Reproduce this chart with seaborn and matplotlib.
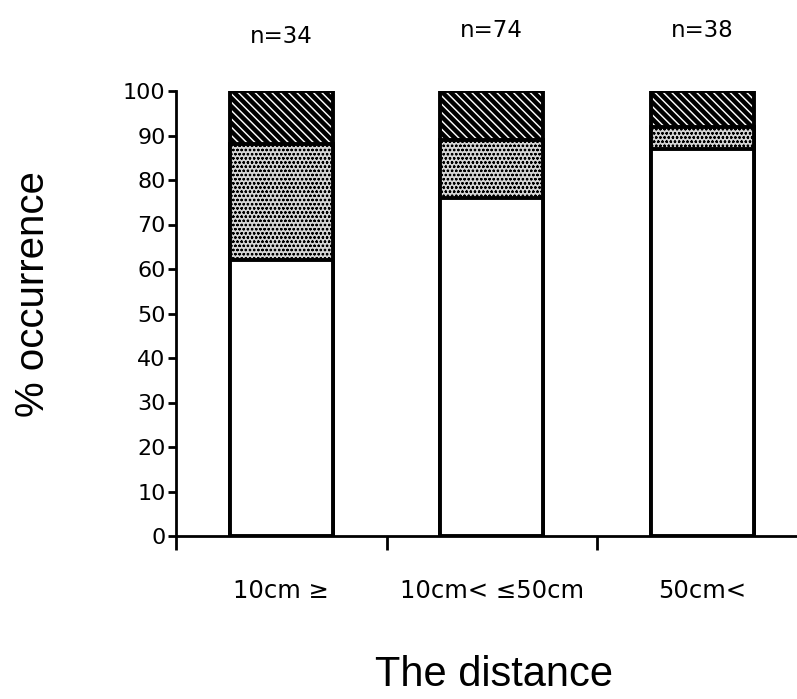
import matplotlib
matplotlib.use('Agg')
import matplotlib.pyplot as plt
import seaborn as sns
import numpy as np
import pandas as pd

sns.set_style('ticks')
plt.rcParams['font.family'] = ['Liberation Sans', 'DejaVu Sans']
plt.rcParams.update({'text.color': 'black', 'axes.labelcolor': 'black',
                     'xtick.color': 'black', 'ytick.color': 'black',
                     'axes.edgecolor': 'black'})

# data
categories = ['10cm ≥', '10cm< ≤50cm', '50cm<']
n_labels = ['n=34', 'n=74', 'n=38']
white_part = [62, 76, 87]
dotted_part = [26, 13, 5]
hatched_part = [12, 11, 8]

df = pd.DataFrame({'distance': categories,
                   'white': white_part,
                   'dotted': dotted_part,
                   'hatched': hatched_part})
df['mid'] = df.white + df.dotted
df['top'] = df.mid + df.hatched

fig = plt.figure(figsize=(7.97, 6.99), dpi=100)
ax = fig.add_axes([176 / 797, 163 / 699, 1 - 176 / 797, 445 / 699])

# stacked bars: draw the tallest layer first, then cover it
with plt.rc_context({'hatch.linewidth': 3.2, 'hatch.color': 'black'}):
    sns.barplot(data=df, x='distance', y='top', color='white', saturation=1,
                edgecolor='black', linewidth=2.8, width=0.49, hatch='\\\\\\\\', ax=ax)
with plt.rc_context({'hatch.linewidth': 0.6, 'hatch.color': '#555555'}):
    sns.barplot(data=df, x='distance', y='mid', color='#d4d4d4', saturation=1,
                edgecolor='black', linewidth=2.8, width=0.49, hatch='oooo', ax=ax)
sns.barplot(data=df, x='distance', y='white', color='white', saturation=1,
            edgecolor='black', linewidth=2.8, width=0.49, ax=ax)

small_font = ['DejaVu Sans', 'Liberation Sans']
n_y = [112.2, 113.6, 113.6]
for i, lab in enumerate(n_labels):
    ax.text(i, n_y[i], lab, ha='center', va='center', fontsize=16.5,
            family=small_font, clip_on=False)

ax.set_ylim(0, 100)
ax.set_xlim(-0.5, 2.45)
ax.set_yticks(np.arange(0, 101, 10))
ax.set_xticks([-0.5, 0.5, 1.5], labels=['', '', ''])
for i, lab in enumerate(categories):
    ax.text(i, -12.3, lab, ha='center', va='center', fontsize=17.5, family=small_font)
for t in ax.get_yticklabels():
    t.set_family(small_font)
ax.tick_params(axis='y', direction='out', length=6, width=2, labelsize=16, pad=1.5)
ax.tick_params(axis='x', direction='out', length=10, width=2)
ax.set_ylabel('% occurrence', fontsize=29, va='center')
ax.yaxis.set_label_coords(-0.230, 0.543)
ax.set_xlabel('The distance', fontsize=30, va='center')
ax.xaxis.set_label_coords(0.512, -0.312)
sns.despine(ax=ax, top=True, right=True)
ax.spines['left'].set_linewidth(2)
ax.spines['bottom'].set_linewidth(2)

fig.savefig('out.png', dpi=100)
